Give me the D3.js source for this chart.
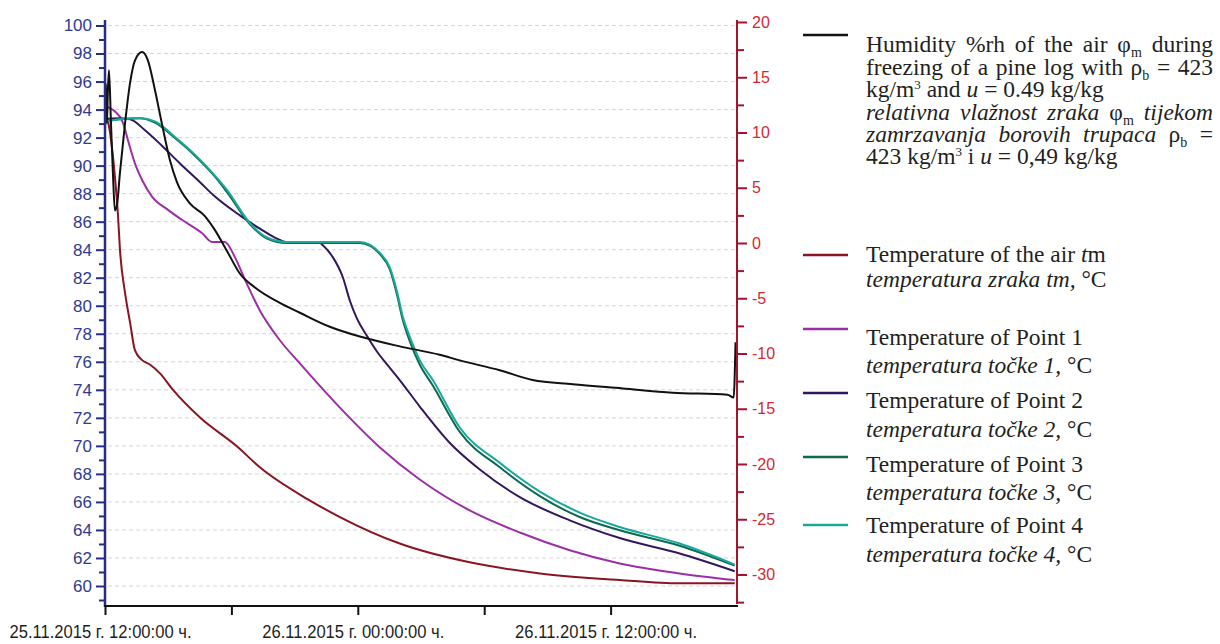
<!DOCTYPE html>
<html>
<head>
<meta charset="utf-8">
<script src="https://cdn.jsdelivr.net/npm/d3@7"></script>
<style>
  html, body { margin: 0; padding: 0; background: #fff; }
  svg { display: block; }
</style>
</head>
<body>
<svg id="chart" width="1220" height="644"></svg>
<script>
// Time is given in hours after 25.11.2015 12:00:00
// Relative humidity of the air, %rh (left axis)
const humidityT = [0, 0.05, 0.09, 0.14, 0.19, 0.28, 0.38, 0.47, 0.57, 0.71, 0.95, 1.19, 1.42, 1.76, 2.04, 2.37, 2.70, 3.08, 3.42, 4.03, 4.74, 5.22, 5.83, 6.40, 7.12, 8.30, 9.25, 10.67, 12.10, 13.99, 15.89, 16.84, 18.74, 20.30, 22.20, 24.57, 26.94, 29.55, 29.84, 29.93];
const humidityV = [93.2, 95.8, 93.0, 95.5, 96.8, 93.2, 89.3, 86.8, 87.2, 89.5, 93.0, 95.9, 97.5, 98.1, 97.5, 95.4, 93.0, 90.4, 88.8, 87.3, 86.4, 85.4, 83.8, 82.3, 81.3, 80.2, 79.5, 78.5, 77.8, 77.1, 76.5, 76.1, 75.4, 74.7, 74.4, 74.1, 73.8, 73.65, 73.45, 77.4];

// Air temperature tm, °C (right axis)
const airT = [0, 0.24, 0.47, 0.62, 0.71, 0.95, 1.19, 1.42, 1.76, 2.13, 2.61, 3.23, 4.51, 6.26, 7.35, 9.63, 11.15, 13.99, 17.31, 20.64, 24.43, 27.28, 29.89];
const airV = [12.2, 10.0, 6.0, 2.4, -0.6, -4.5, -7.2, -9.7, -10.6, -11.0, -11.8, -13.3, -15.8, -18.4, -20.3, -23.2, -24.8, -27.2, -28.9, -29.9, -30.5, -30.8, -30.8];

// Log temperatures at measuring points 1-4, °C (right axis)
const point1T = [0.05, 0.14, 0.47, 0.85, 1.09, 1.42, 1.76, 2.23, 2.99, 3.65, 4.60, 5.08, 5.69, 6.17, 6.64, 7.35, 8.30, 9.25, 11.15, 13.05, 14.94, 17.31, 19.69, 22.06, 24.43, 27.28, 29.89];
const point1V = [12.4, 12.3, 11.9, 10.9, 9.3, 7.2, 5.7, 4.2, 3.0, 2.1, 0.9, 0.1, 0.1, -1.3, -3.3, -6.1, -8.8, -10.9, -14.9, -18.5, -21.4, -24.2, -26.2, -27.8, -29.0, -29.9, -30.5];

const point2T = [0, 0.62, 1.19, 1.90, 2.70, 3.56, 4.51, 5.22, 6.40, 7.35, 8.16, 8.78, 10.20, 10.34, 10.82, 11.29, 11.62, 11.95, 12.43, 12.90, 13.52, 13.99, 14.94, 16.37, 17.79, 19.69, 22.06, 24.43, 27.28, 29.89];
const point2V = [11.2, 11.3, 11.2, 10.2, 8.8, 7.2, 5.5, 4.2, 2.5, 1.3, 0.4, 0.0, 0.0, -0.2, -1.3, -3.1, -5.2, -6.8, -8.4, -9.8, -11.3, -12.4, -14.8, -18.1, -20.5, -23.0, -25.1, -26.7, -28.1, -29.7];

const point3T = [0, 0.71, 1.66, 2.37, 3.32, 4.27, 5.22, 5.79, 6.88, 7.69, 8.63, 12.10, 13.05, 13.52, 13.85, 14.14, 14.47, 14.94, 15.56, 16.84, 18.74, 20.64, 22.53, 24.43, 27.28, 29.89];
const point3V = [11.0, 11.2, 11.3, 10.9, 9.5, 7.9, 6.0, 4.6, 1.7, 0.4, 0.0, 0.0, -1.0, -2.4, -4.6, -7.0, -8.9, -11.0, -12.9, -17.1, -20.3, -22.9, -24.8, -26.0, -27.4, -29.2];

const point4T = [0, 0.71, 1.66, 2.37, 3.32, 4.27, 5.22, 5.79, 6.88, 7.69, 8.63, 12.10, 13.05, 13.52, 13.85, 14.14, 14.47, 14.94, 15.56, 16.84, 18.74, 20.64, 22.53, 24.43, 27.28, 29.89];
const point4V = [11.0, 11.2, 11.3, 11.0, 9.6, 8.0, 6.1, 4.8, 1.8, 0.5, 0.1, 0.1, -0.9, -2.2, -4.3, -6.7, -8.5, -10.6, -12.4, -16.7, -19.9, -22.5, -24.4, -25.7, -27.2, -29.1];

// Axis ticks
const xTickHours = [0, 6, 12, 18, 24];
const xTickLabels = ["25.11.2015 г. 12:00:00 ч.", "", "26.11.2015 г. 00:00:00 ч.", "", "26.11.2015 г. 12:00:00 ч."];
const leftTicks = d3.range(59, 100.5, 1);
const rightTicks = d3.range(-32.5, 20.01, 2.5);

// Legend text: [text, style] runs per line
const legendEntries = [
  { color: "#111111", lineY: 35, lines: [
    { y: 52, justify: true, runs: [["Humidity %rh of the air φ", "n"], ["m", "sub"], [" during", "n"]] },
    { y: 75, justify: true, runs: [["freezing of a pine log with ρ", "n"], ["b", "sub"], [" = 423", "n"]] },
    { y: 97, runs: [["kg/m", "n"], ["3", "sup"], [" and ", "n"], ["u", "i"], [" = 0.49 kg/kg", "n"]] },
    { y: 120, justify: true, runs: [["relativna vlažnost zraka ", "i"], ["φ", "n"], ["m", "sub"], [" tijekom", "i"]] },
    { y: 142, justify: true, runs: [["zamrzavanja borovih trupaca ", "i"], ["ρ", "n"], ["b", "sub"], [" =", "n"]] },
    { y: 164, runs: [["423 kg/m", "n"], ["3", "sup"], [" i ", "n"], ["u", "i"], [" = 0,49 kg/kg", "n"]] }
  ]},
  { color: "#8a1424", lineY: 255, lines: [
    { y: 262, runs: [["Temperature of the air ", "n"], ["t", "i"], ["m", "n"]] },
    { y: 287, runs: [["temperatura zraka tm, ", "i"], ["°C", "n"]] }
  ]},
  { color: "#9b2fa5", lineY: 329, lines: [
    { y: 345, runs: [["Temperature of Point 1", "n"]] },
    { y: 373, runs: [["temperatura točke 1, ", "i"], ["°C", "n"]] }
  ]},
  { color: "#33175e", lineY: 393, lines: [
    { y: 408, runs: [["Temperature of Point 2", "n"]] },
    { y: 437, runs: [["temperatura točke 2, ", "i"], ["°C", "n"]] }
  ]},
  { color: "#0c6a4e", lineY: 457, lines: [
    { y: 472, runs: [["Temperature of Point 3", "n"]] },
    { y: 500, runs: [["temperatura točke 3, ", "i"], ["°C", "n"]] }
  ]},
  { color: "#1aa89c", lineY: 525, lines: [
    { y: 533, runs: [["Temperature of Point 4", "n"]] },
    { y: 562, runs: [["temperatura točke 4, ", "i"], ["°C", "n"]] }
  ]}
];

const svg = d3.select("#chart");
const start = new Date(2015, 10, 25, 12, 0, 0);
const atHour = h => new Date(start.getTime() + h * 3600000);

const x = d3.scaleTime().domain([atHour(0), atHour(30)]).range([105, 737]);
const yLeft = d3.scaleLinear().domain([60, 100]).range([586, 25.5]);
const yRight = d3.scaleLinear().domain([-30, 20]).range([574.5, 22]);

// dashed horizontal grid on the humidity scale
svg.append("g").selectAll("line")
  .data(d3.range(60, 100.5, 2))
  .join("line")
  .attr("x1", 108).attr("x2", 735)
  .attr("y1", d => yLeft(d)).attr("y2", d => yLeft(d))
  .attr("stroke", "#d4d4d4").attr("stroke-width", 1)
  .attr("stroke-dasharray", "4,3");

const zip = (ts, vs) => ts.map((t, i) => ({ t, v: vs[i] }));
const lineOn = scale => d3.line()
  .x(d => x(atHour(d.t)))
  .y(d => scale(d.v))
  .curve(d3.curveMonotoneX);

const series = [
  { data: zip(airT, airV), scale: yRight, color: "#8a1424" },
  { data: zip(point1T, point1V), scale: yRight, color: "#9b2fa5" },
  { data: zip(point2T, point2V), scale: yRight, color: "#33175e" },
  { data: zip(point3T, point3V), scale: yRight, color: "#0c6a4e" },
  { data: zip(point4T, point4V), scale: yRight, color: "#1aa89c" },
  { data: zip(humidityT, humidityV), scale: yLeft, color: "#111111" }
];

svg.append("g").selectAll("path")
  .data(series)
  .join("path")
  .attr("d", s => lineOn(s.scale)(s.data))
  .attr("fill", "none")
  .attr("stroke", s => s.color)
  .attr("stroke-width", 2)
  .attr("stroke-linejoin", "round");

// left axis (humidity)
const leftColor = "#252e80";
const gL = svg.append("g").attr("transform", "translate(105,0)");
gL.call(d3.axisLeft(yLeft).tickValues(leftTicks)
    .tickSize(0).tickPadding(13)
    .tickFormat(d => d % 2 === 0 ? d : ""))
  .call(g => g.select(".domain").remove());
gL.selectAll(".tick line")
  .attr("x1", d => d % 2 === 0 ? -9 : -6).attr("x2", 1)
  .attr("stroke", leftColor).attr("stroke-width", 2);
gL.selectAll(".tick text")
  .attr("fill", "#2f3b8f")
  .style("font-family", "'Liberation Sans', Arial, sans-serif")
  .style("font-size", "17px");
gL.append("line").attr("x1", 0).attr("x2", 0).attr("y1", 20).attr("y2", 607)
  .attr("stroke", leftColor).attr("stroke-width", 2.5);

// right axis (temperature)
const rightColor = "#a3142c";
const gR = svg.append("g").attr("transform", "translate(737,0)");
gR.call(d3.axisRight(yRight).tickValues(rightTicks)
    .tickSize(0).tickPadding(15)
    .tickFormat(d => d % 5 === 0 ? d : ""))
  .call(g => g.select(".domain").remove());
gR.selectAll(".tick line")
  .attr("x1", 0).attr("x2", d => d % 5 === 0 ? 10 : 7)
  .attr("stroke", rightColor).attr("stroke-width", 2);
gR.selectAll(".tick text")
  .attr("fill", "#d2292f")
  .style("font-family", "'Liberation Sans', Arial, sans-serif")
  .style("font-size", "16px");
gR.append("line").attr("x1", 0).attr("x2", 0).attr("y1", 20).attr("y2", 604)
  .attr("stroke", rightColor).attr("stroke-width", 2);

// time axis
const gX = svg.append("g").attr("transform", "translate(0,606)");
gX.call(d3.axisBottom(x).tickValues(xTickHours.map(atHour))
    .tickSize(9).tickPadding(10)
    .tickFormat((d, i) => xTickLabels[i]))
  .call(g => g.select(".domain").remove());
gX.selectAll(".tick line").attr("stroke", "#111").attr("stroke-width", 2);
gX.selectAll(".tick text")
  .attr("fill", "#1e1e1e")
  .attr("text-anchor", "start")
  .attr("x", -96)
  .attr("textLength", d => xTickLabels[xTickHours.indexOf((d - start) / 3600000)] ? 182 : null)
  .attr("lengthAdjust", "spacingAndGlyphs")
  .style("font-family", "'Liberation Sans', Arial, sans-serif")
  .style("font-size", "18px");
gX.append("line").attr("x1", 104).attr("x2", 738).attr("y1", 0).attr("y2", 0)
  .attr("stroke", "#111").attr("stroke-width", 2);

// legend
const legend = svg.append("g")
  .style("font-family", "'Liberation Serif', 'Times New Roman', serif")
  .style("font-size", "23.5px")
  .attr("fill", "#231f20");
const textLeft = 866, textRight = 1213;

legendEntries.forEach(entry => {
  legend.append("line")
    .attr("x1", 803).attr("x2", 848)
    .attr("y1", entry.lineY).attr("y2", entry.lineY)
    .attr("stroke", entry.color).attr("stroke-width", 2.5);
  entry.lines.forEach(line => {
    const text = legend.append("text")
      .attr("x", textLeft).attr("y", line.y)
      .style("white-space", "pre");
    let shift = 0;
    line.runs.forEach(([s, style]) => {
      const ts = text.append("tspan").text(s);
      if (style === "i") ts.attr("font-style", "italic");
      if (style === "sub") {
        ts.attr("font-size", "14px").attr("dy", 5 - shift); shift = 5;
      } else if (style === "sup") {
        ts.attr("font-size", "13px").attr("dy", -8 - shift); shift = -8;
      } else if (shift !== 0) {
        ts.attr("dy", -shift); shift = 0;
      }
    });
    if (line.justify) {
      const w = text.node().getComputedTextLength();
      const spaces = line.runs.map(r => r[0]).join("").split(" ").length - 1;
      if (spaces > 0) text.style("word-spacing", ((textRight - textLeft - w) / spaces) + "px");
    }
  });
});
</script>
</body>
</html>
